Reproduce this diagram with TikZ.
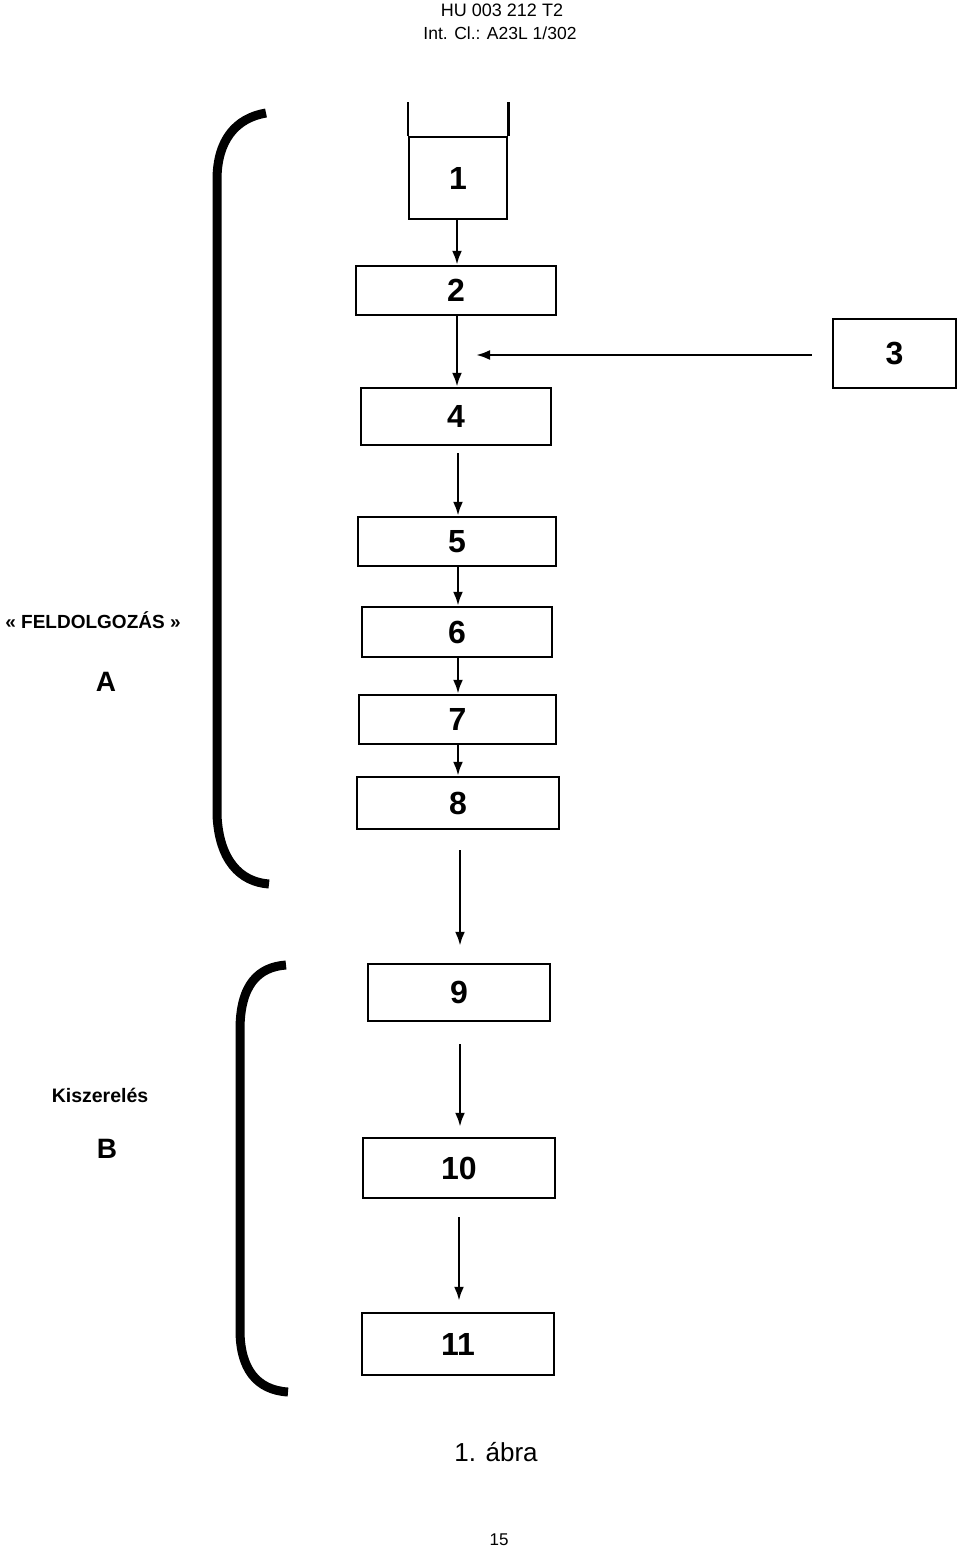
\documentclass[tikz,border=0pt]{standalone}
\usepackage{fontspec}
\setmainfont{Liberation Sans}
\usetikzlibrary{arrows.meta}
\begin{document}
\begin{tikzpicture}[x=1pt,y=-1pt,
  stepbox/.style={draw,line width=2.5pt,inner sep=0pt,font=\fontsize{32}{32}\selectfont\bfseries},
  flow/.style={line width=2.5pt,-{Latex[length=14pt,width=10pt]}},
  brace/.style={line width=9pt,line cap=butt},
  side/.style={font=\bfseries}]
\fill[white] (0,0) rectangle (960,1548);
\useasboundingbox (0,0) rectangle (960,1548);
% header
\node[font=\fontsize{18}{18}\selectfont] (h1) at (502,10) {HU 003 212 T2};
\node[font=\fontsize{17.5}{17.5}\selectfont] (h2) at (500,33) {Int. Cl.: A23L 1/302};
% boxes
\node[stepbox,minimum width=98pt,minimum height=82pt] (b1) at (458,178) {1};
\node[stepbox,minimum width=200pt,minimum height=49pt] (b2) at (456,290.5) {2};
\node[stepbox,minimum width=123pt,minimum height=69pt] (b3) at (894.5,353.5) {3};
\node[stepbox,minimum width=190pt,minimum height=57pt] (b4) at (456,416.5) {4};
\node[stepbox,minimum width=198pt,minimum height=49pt] (b5) at (457,541.5) {5};
\node[stepbox,minimum width=190pt,minimum height=50pt] (b6) at (457,632) {6};
\node[stepbox,minimum width=197pt,minimum height=49pt] (b7) at (457.5,719.5) {7};
\node[stepbox,minimum width=202pt,minimum height=52pt] (b8) at (458,803) {8};
\node[stepbox,minimum width=182pt,minimum height=57pt] (b9) at (459,992.5) {9};
\node[stepbox,minimum width=192pt,minimum height=60pt] (b10) at (459,1168) {10};
\node[stepbox,minimum width=192pt,minimum height=62pt] (b11) at (458,1344) {11};
% hopper walls of box 1
\draw[line width=2.5pt] (b1.north west) -- ++(0,-34);
\draw[line width=2.5pt] (b1.north east) -- ++(0,-34);
% connectors
\draw[flow] (b1.south -| 457,0) -- (b2.north -| 457,0);
\draw[flow] (b2.south -| 457,0) -- (b4.north -| 457,0);
\coordinate (m) at (457,355);
\draw[flow,shorten <=20pt,shorten >=19pt] (b3.west |- m) -- (m);
\draw[flow,shorten <=7pt] (b4.south -| 458,0) -- (b5.north -| 458,0);
\draw[flow] (b5.south -| 458,0) -- (b6.north -| 458,0);
\draw[flow] (b6.south -| 458,0) -- (b7.north -| 458,0);
\draw[flow] (b7.south -| 458,0) -- (b8.north -| 458,0);
\draw[flow,shorten <=20pt,shorten >=17pt] (b8.south -| 460,0) -- (b9.north -| 460,0);
\draw[flow,shorten <=22pt,shorten >=10pt] (b9.south -| 460,0) -- (b10.north -| 460,0);
\draw[flow,shorten <=18pt,shorten >=11pt] (b10.south -| 459,0) -- (b11.north -| 459,0);
% brackets
\draw[brace] (266,113) .. controls (236,118) and (217,140) .. (217,180)
  -- (217,815) .. controls (219,860) and (240,882) .. (269,884);
\draw[brace] (286,965) .. controls (258,967) and (240,985) .. (240,1030)
  -- (240,1330) .. controls (240,1368) and (256,1390) .. (288,1392);
% side labels
\node[side,font=\fontsize{19}{19}\selectfont\bfseries] (la) at (93,620) {« FELDOLGOZÁS »};
\node[side,font=\fontsize{28}{28}\selectfont\bfseries] (lA) at (106,682) {A};
\node[side,font=\fontsize{19.5}{19.5}\selectfont\bfseries] (lb) at (100,1095) {Kiszerelés};
\node[side,font=\fontsize{28}{28}\selectfont\bfseries] (lB) at (107,1149) {B};
% footer
\node[font=\fontsize{26}{26}\selectfont] (fig) at (496,1452) {1. ábra};
\node[font=\fontsize{17}{17}\selectfont] (pg) at (499,1540) {15};
\end{tikzpicture}
\end{document}
